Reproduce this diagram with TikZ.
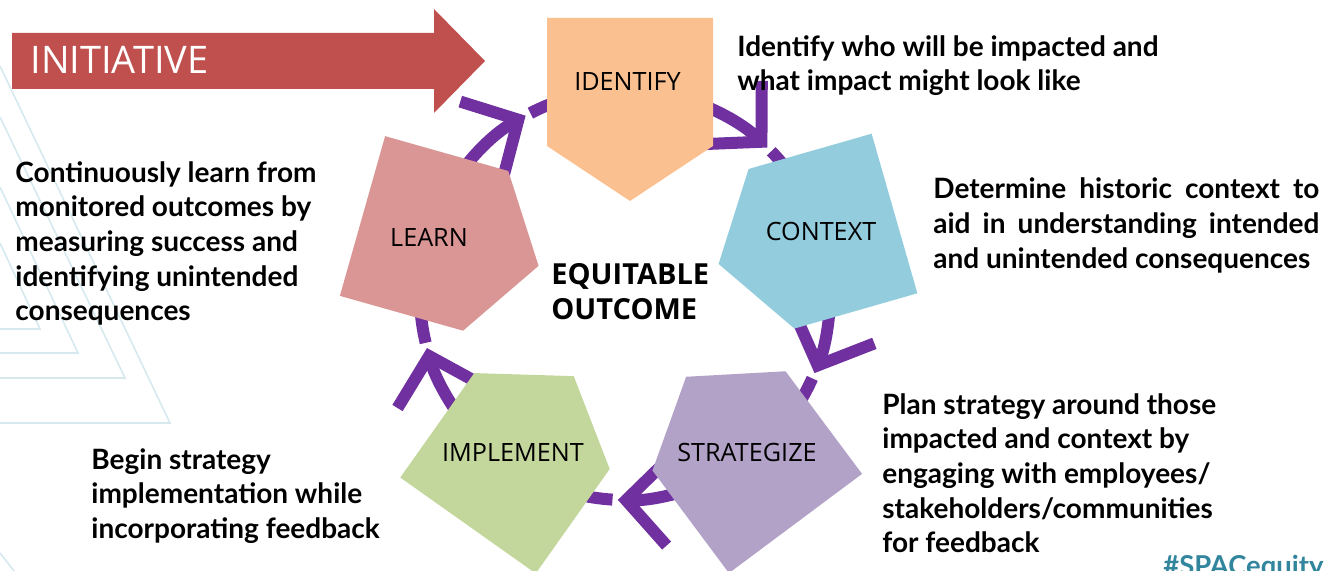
\documentclass[tikz,border=0pt]{standalone}
\usepackage{fontspec}
\setmainfont{Open Sans}
\newfontfamily\spartan{Lato}
\usepackage{tikz}
\usetikzlibrary{arrows.meta}

\definecolor{initred}{HTML}{C0504D}
\definecolor{idorange}{HTML}{FAC090}
\definecolor{ctxblue}{HTML}{93CDDD}
\definecolor{strpurple}{HTML}{B3A2C7}
\definecolor{impgreen}{HTML}{C3D69B}
\definecolor{lrnpink}{HTML}{D99694}
\definecolor{flowpurple}{HTML}{7030A0}
\definecolor{tagteal}{HTML}{31859C}
\definecolor{bgteal}{HTML}{D6E9EE}

\tikzset{
  plate/.pic={\path[pic actions] (0,-83) -- (128,-83) -- (183,0) -- (128,83) -- (0,83) -- cycle;},
  steplabel/.style={font=\fontsize{12.6}{15}\selectfont, inner sep=0pt},
  blurb/.style={font=\spartan\bfseries\fontsize{14}{17.35}\selectfont, align=left, anchor=base west, inner sep=0pt},
  flow/.style={flowpurple, line width=6pt},
  bgline/.style={bgteal, line width=0.8pt}
}

\begin{document}
\begin{tikzpicture}[x=0.5pt, y=0.5pt]
\useasboundingbox (0,0) rectangle (1339,571);
\clip (0,0) rectangle (1339,571);

% background chevrons
\foreach \y/\x/\z in {505/170/148, 454/125/193, 384/78/218, 328/40/242}
  \draw[bgline] (0,\y) -- (\x,\z) -- (0,\z);
\draw[bgline] (0,18) -- (18,-5);

% initiative arrow
\fill[initred] (12,538) -- (434,538) -- (434,562) -- (485,510) -- (434,458) -- (434,482) -- (12,482) -- cycle;
\node[white, anchor=base west, inner sep=0pt, font=\fontsize{19}{23}\selectfont] (init) at (30,497) {INITIATIVE};

% cycle arrows
\coordinate (ctr) at (625,276);
\foreach \s/\t/\u/\e in {150/119/117.5/105, 75/46/44.5/35, 0/-22.4/-24/-35, -70/-92/-93.5/-104, 218/195/193.5/183}{
  \draw[flow] (ctr) ++(\u:205) arc[start angle=\u, end angle=\e, radius=205];
  \draw[flow, -{Straight Barb[length=21pt, width=44pt]}] (ctr) ++(\s:205) arc[start angle=\s, end angle=\t, radius=205];
}

% step shapes
\foreach \x/\y/\a/\c in {630/553/270/idorange, 894.5/357.5/196/ctxblue, 795.5/47.5/126.7/strpurple, 468/45.5/54.7/impgreen, 362.5/355/-15.8/lrnpink}
  \pic[fill=\c, rotate=\a] at (\x,\y) {plate};

\node[steplabel] (identify) at (627.5,489.3) {IDENTIFY};
\node[steplabel] (context) at (821,339.3) {CONTEXT};
\node[steplabel] (strategize) at (747,118) {STRATEGIZE};
\node[steplabel] (implement) at (513,118.5) {IMPLEMENT};
\node[steplabel] (learn) at (429,334) {LEARN};

% base of a multi-line node = its last line
\node[font=\bfseries\fontsize{14.5}{17.5}\selectfont, align=left, anchor=base west, inner sep=0pt] (outcome) at (551,251) {EQUITABLE\\OUTCOME};

% descriptions
\node[blurb] (impact) at (737,480) {Identify who will be impacted and\\what impact might look like};
\node[blurb, text width=193pt, align=justify] (history) at (933,372) {Determine historic context to\linebreak aid in understanding intended\linebreak and unintended consequences};
\node[blurb] (plan) at (882,18) {Plan strategy around those\\impacted and context by\\engaging with employees/\\stakeholders/communities\\for feedback};
\node[blurb] (begin) at (91,32.5) {Begin strategy\\implementation while\\incorporating feedback};
\node[blurb] (monitor) at (15,250) {Continuously learn from\\monitored outcomes by\\measuring success and\\identifying unintended\\consequences};
\node[blurb, tagteal, font=\spartan\bfseries\fontsize{13.7}{16}\selectfont] (tag) at (1163,-5) {\#SPACequity};
\end{tikzpicture}
\end{document}
